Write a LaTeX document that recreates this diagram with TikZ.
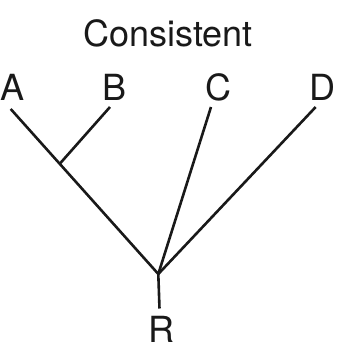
\documentclass[tikz,border=0pt]{standalone}
\usepackage{fontspec}
\setmainfont{TeX Gyre Heros}
\begin{document}
\begin{tikzpicture}[x=1pt,y=-1pt,
  lbl/.style={anchor=base,inner sep=0pt,font=\fontsize{36}{40}\selectfont,text=black!90},
  branch/.style={draw=black!90,line width=2.6pt}]
\useasboundingbox (0,0) rectangle (343,349);
\node[lbl] (title) at (168.3,46) {Consistent};
\node[lbl] (A) at (12.5,100) {A};
\node[lbl] (B) at (114.3,100) {B};
\node[lbl] (C) at (218,100) {C};
\node[lbl] (D) at (322.7,100) {D};
\node[lbl] (R) at (161.5,342) {R};
\coordinate (at) at (10.7,109);
\coordinate (bt) at (110,107);
\coordinate (ct) at (211,107);
\coordinate (dt) at (315.7,107);
\coordinate (root) at (158.3,274);
\coordinate (ab) at (60,163.5);
\coordinate (rt) at (159.5,308.5);
\draw[branch] (at) -- (root);
\draw[branch] (bt) -- (ab);
\draw[branch] (ct) -- (root);
\draw[branch] (dt) -- (root);
\draw[branch] (root) -- (rt);
\end{tikzpicture}
\end{document}
